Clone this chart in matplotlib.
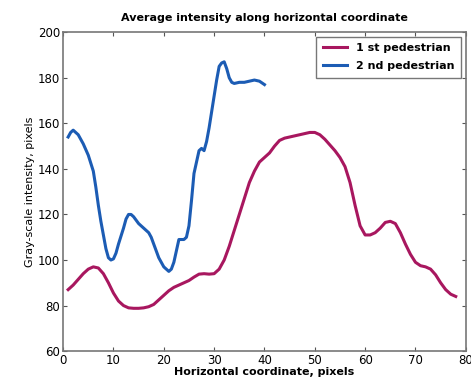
import matplotlib
matplotlib.use("Agg")
import matplotlib.pyplot as plt

# 1st pedestrian (magenta)
x1 = [1, 2, 3, 4, 5, 6, 7, 8, 9, 10, 11, 12, 13, 14, 15, 16, 17, 18, 19, 20,
      21, 22, 23, 24, 25, 26, 27, 28, 29, 30, 31, 32, 33, 34, 35, 36, 37, 38,
      39, 40, 41, 42, 43, 44, 45, 46, 47, 48, 49, 50, 51, 52, 53, 54, 55, 56,
      57, 58, 59, 60, 61, 62, 63, 64, 65, 66, 67, 68, 69, 70, 71, 72, 73, 74,
      75, 76, 77, 78]
y1 = [87, 89, 91.5, 94, 96, 97, 96.5, 94, 90, 85.5, 82, 80, 79, 78.8, 78.8,
      79, 79.5, 80.5, 82.5, 84.5, 86.5, 88, 89, 90, 91, 92.5, 93.8, 94, 93.8,
      94, 96, 100, 106, 113, 120, 127, 134, 139, 143, 145, 147, 150, 152.5,
      153.5, 154, 154.5, 155, 155.5, 156, 156, 155, 153, 150.5, 148, 145, 141,
      134, 124, 115, 111, 111, 112, 114, 116.5, 117, 116, 112, 107, 102.5, 99,
      97.5, 97, 96, 93.5, 90, 87, 85, 84]

# 2nd pedestrian (blue)
x2 = [1, 1.5, 2, 3, 4, 5, 6, 6.5, 7, 7.5, 8, 8.5, 9, 9.5, 10, 10.5, 11, 12,
      12.5, 13, 13.5, 14, 15, 16, 17, 17.5, 18, 19, 20, 21, 21.5, 22, 22.5,
      23, 24, 24.5, 25, 25.5, 26, 27, 27.5, 28, 28.5, 29, 30, 30.5, 31, 31.5,
      32, 32.5, 33, 33.5, 34, 35, 36, 37, 38, 39, 40]
y2 = [154, 156, 157, 155, 151, 146, 139, 132, 124, 117, 111, 105, 101, 100,
      100.5, 103, 107, 114, 118, 120, 120, 119, 116, 114, 112, 110, 107, 101,
      97, 95, 96, 99, 104, 109, 109, 110, 115, 126, 138, 148, 149, 148, 152,
      158, 172, 179, 185, 186.5, 187, 184, 180, 178, 177.5, 178, 178, 178.5,
      179, 178.5, 177]

fig = plt.figure(figsize=(4.71, 3.88), dpi=100)
ax = fig.add_axes([0.134, 0.095, 0.855, 0.822])

ax.plot(x1, y1, color="#A8175F", lw=2.2, label="1 st pedestrian",
        solid_joinstyle="round")
ax.plot(x2, y2, color="#1C5CB4", lw=2.2, label="2 nd pedestrian",
        solid_joinstyle="round")

ax.set_xlim(0, 80)
ax.set_ylim(60, 200)
ax.set_xticks(range(0, 81, 10))
ax.set_yticks(range(60, 201, 20))
ax.tick_params(direction="in", top=True, right=True, labelsize=8.5, length=3,
               color="#555555", pad=2)
for s in ax.spines.values():
    s.set_color("#777777")
    s.set_linewidth(1.2)

ax.set_title("Average intensity along horizontal coordinate", fontsize=8,
             pad=8, fontweight="semibold")
ax.set_xlabel("Horizontal coordinate, pixels", fontsize=8, labelpad=0,
              fontweight="semibold")
ax.set_ylabel("Gray-scale intensity, pixels", fontsize=8, labelpad=2)

leg = ax.legend(loc="upper right", fontsize=8, fancybox=False, framealpha=1,
                edgecolor="#777777", handlelength=2.2, borderaxespad=0.4,
                labelspacing=0.7, borderpad=0.6)
for t in leg.get_texts():
    t.set_fontweight("semibold")

fig.savefig("out.png", dpi=100)
